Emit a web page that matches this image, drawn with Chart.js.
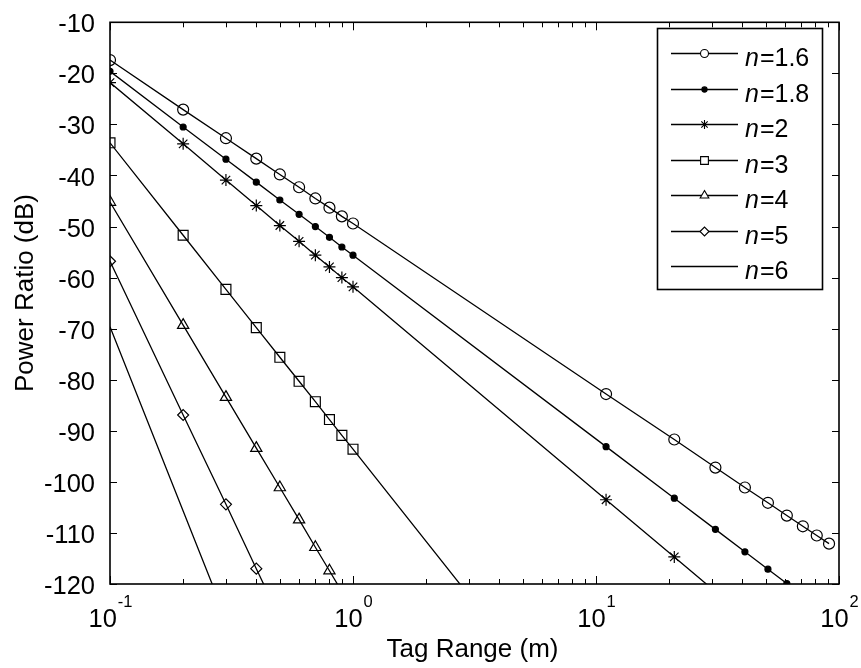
<!DOCTYPE html>
<html>
<head>
<meta charset="utf-8">
<script src="https://cdn.jsdelivr.net/npm/chart.js@4.4.0/dist/chart.umd.min.js"></script>
<style>
  body { margin: 0; background: #fff; }
  canvas { display: block; }
</style>
</head>
<body>
<canvas id="grafico" width="861" height="668"></canvas>
<script>
// Valores
const tagRange = [0.1, 0.2, 0.3, 0.4, 0.5, 0.6, 0.7, 0.8, 0.9, 1, 11, 21, 31, 41, 51, 61, 71, 81, 91];
const n16 = [-17.4, -27.1, -32.7, -36.7, -39.8, -42.3, -44.5, -46.3, -48.0, -49.4, -82.8, -91.7, -97.2, -101.1, -104.1, -106.6, -108.7, -110.5, -112.1];
const n18 = [-19.6, -30.5, -36.8, -41.3, -44.8, -47.6, -50.0, -52.1, -54.0, -55.6, -93.1, -103.2, -109.3, -113.7, -117.1, -119.9, -122.3];
const n2 = [-21.8, -33.8, -40.9, -45.9, -49.8, -52.9, -55.6, -57.9, -60.0, -61.8, -103.5, -114.7, -121.5];
const n3 = [-33.6, -51.7, -62.3, -69.8, -75.6, -80.3, -84.3, -87.8, -90.9, -93.6, -156.1];
const n4 = [-45.2, -69.3, -83.4, -93.4, -101.1, -107.4, -112.8, -117.4, -121.5];
const n5 = [-56.8, -86.9, -104.4, -117.0, -126.7];
const n6 = [-69.6, -105.7, -126.8];
const nLabels = ['1.6', '1.8', '2', '3', '4', '5', '6'];
const xDecades = [-1, 0, 1, 2];
const yTicks = [-120, -110, -100, -90, -80, -70, -60, -50, -40, -30, -20, -10];

const FONTE = '"Liberation Sans", Arial, sans-serif';

// estilo dos marcadores (no gráfico e na legenda)
const marcadores = [
  { style: 'circle', r: 5.5, rLeg: 4, fill: 'rgba(0,0,0,0)' },
  { style: 'circle', r: 3, rLeg: 2.6, fill: '#000' },
  { style: 'star', r: 6, rLeg: 4.5, fill: 'rgba(0,0,0,0)' },
  { style: 'rect', r: 7, rLeg: 5.5, fill: 'rgba(0,0,0,0)' },
  { style: 'triangle', r: 6.5, rLeg: 5, fill: 'rgba(0,0,0,0)' },
  { style: 'rectRot', r: 5.5, rLeg: 4.5, fill: 'rgba(0,0,0,0)' },
  { style: 'circle', r: 0, rLeg: 0, fill: 'rgba(0,0,0,0)' }
];

const series = [n16, n18, n2, n3, n4, n5, n6];

const datasets = series.map((ys, i) => ({
  label: 'n=' + nLabels[i],
  data: ys.map((y, k) => ({ x: tagRange[k], y: y })),
  borderColor: '#000',
  borderWidth: 1.3,
  pointStyle: marcadores[i].style,
  pointRadius: marcadores[i].r,
  pointBackgroundColor: marcadores[i].fill,
  pointBorderColor: '#000',
  pointBorderWidth: 1.2,
  tension: 0,
  fill: false
}));

// desenha caixa, ticks internos, rótulos do eixo x, títulos e legenda
const estiloMatlab = {
  id: 'estiloMatlab',
  afterDraw(chart) {
    const ctx = chart.ctx;
    const a = chart.chartArea;
    const xs = chart.scales.x;
    const ys = chart.scales.y;
    ctx.save();
    ctx.strokeStyle = '#000';
    ctx.fillStyle = '#000';

    // ticks
    ctx.lineWidth = 1;
    ctx.beginPath();
    yTicks.forEach(v => {
      const py = Math.round(ys.getPixelForValue(v)) + 0.5;
      ctx.moveTo(a.left, py); ctx.lineTo(a.left + 7, py);
      ctx.moveTo(a.right, py); ctx.lineTo(a.right - 7, py);
    });
    xDecades.forEach(e => {
      for (let k = 1; k <= 9; k++) {
        const v = k * Math.pow(10, e);
        if (v > 100.0001) break;
        const px = Math.round(xs.getPixelForValue(v)) + 0.5;
        const len = k === 1 ? 8 : 5;
        ctx.moveTo(px, a.bottom); ctx.lineTo(px, a.bottom - len);
        ctx.moveTo(px, a.top); ctx.lineTo(px, a.top + len);
      }
    });
    ctx.stroke();

    // caixa
    ctx.lineWidth = 1.6;
    ctx.strokeRect(a.left, a.top, a.right - a.left, a.bottom - a.top);

    // rótulos 10^e
    xDecades.forEach(e => {
      const px = xs.getPixelForValue(Math.pow(10, e));
      ctx.font = '25.5px ' + FONTE;
      const w10 = ctx.measureText('10').width;
      ctx.font = '16.5px ' + FONTE;
      const we = ctx.measureText(String(e)).width;
      const x0 = px - (w10 + we) / 2;
      ctx.textAlign = 'left';
      ctx.textBaseline = 'alphabetic';
      ctx.font = '25.5px ' + FONTE;
      ctx.fillText('10', x0, 627);
      ctx.font = '16.5px ' + FONTE;
      ctx.fillText(String(e), x0 + w10 + 1, 607);
    });

    // títulos dos eixos
    ctx.font = '26px ' + FONTE;
    ctx.textAlign = 'center';
    ctx.fillText('Tag Range (m)', (a.left + a.right) / 2 - 2, 657);
    ctx.save();
    ctx.translate(33, 293);
    ctx.rotate(-Math.PI / 2);
    ctx.fillText('Power Ratio (dB)', 0, 0);
    ctx.restore();

    // legenda
    const lx = 657.5, ly = 28.5, lw = 165, lh = 261;
    ctx.fillStyle = '#fff';
    ctx.fillRect(lx, ly, lw, lh);
    ctx.lineWidth = 1.6;
    ctx.strokeRect(lx, ly, lw, lh);
    chart.data.datasets.forEach((ds, i) => {
      const y = Math.round(53 + i * 35.5) + 0.5;
      ctx.lineWidth = 1.3;
      ctx.strokeStyle = '#000';
      ctx.beginPath();
      ctx.moveTo(671, y); ctx.lineTo(738, y);
      ctx.stroke();
      const m = marcadores[i];
      if (m.rLeg > 0) {
        ctx.fillStyle = m.fill === '#000' ? '#000' : '#fff';
        ctx.lineWidth = 1.1;
        Chart.helpers.drawPoint(ctx, { pointStyle: m.style, radius: m.rLeg, rotation: 0, borderWidth: 1.1 }, 704.5, y);
      }
      ctx.fillStyle = '#000';
      ctx.textAlign = 'left';
      ctx.font = 'italic 25px ' + FONTE;
      ctx.fillText('n', 745, y + 12);
      const wn = ctx.measureText('n').width;
      ctx.font = '25px ' + FONTE;
      ctx.fillText('=' + nLabels[i], 745 + wn + 1, y + 12);
    });
    ctx.restore();
  }
};

new Chart(document.getElementById('grafico'), {
  type: 'line',
  data: { datasets: datasets },
  options: {
    responsive: false,
    animation: false,
    devicePixelRatio: 1,
    layout: { padding: { top: 16, right: 22, left: 0, bottom: 0 } },
    plugins: { legend: { display: false }, tooltip: { enabled: false } },
    scales: {
      x: {
        type: 'logarithmic',
        min: 0.1,
        max: 100,
        grid: { display: false },
        border: { display: false },
        ticks: { display: false },
        afterFit: s => { s.height = 84; }
      },
      y: {
        type: 'linear',
        min: -120,
        max: -10,
        grid: { display: false },
        border: { display: false },
        ticks: {
          stepSize: 10,
          color: '#000',
          padding: 7,
          labelOffset: 3,
          font: { family: FONTE, size: 25.5 }
        },
        afterFit: s => { s.width = 110; }
      }
    }
  },
  plugins: [estiloMatlab]
});
</script>
</body>
</html>
